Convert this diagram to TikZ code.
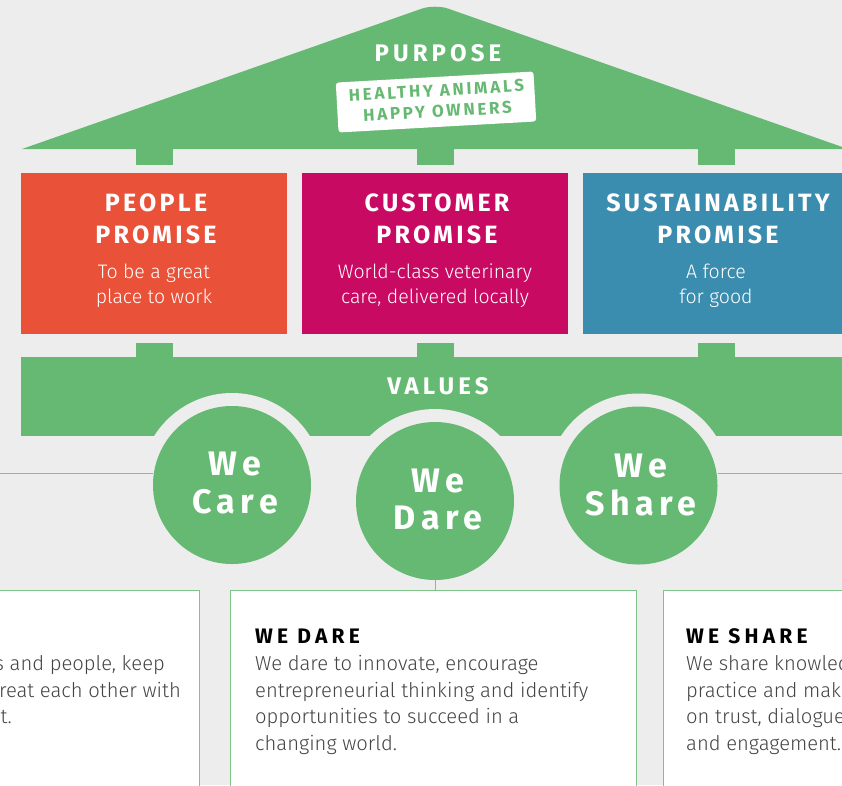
\documentclass[tikz,border=0pt]{standalone}
\usepackage{fontspec}
\setmainfont{Fira Sans}
\newfontfamily\lightfont{Fira Sans Light}
\newfontfamily\lsfont{Fira Sans}[LetterSpace=13]
\newfontfamily\lsbigfont{Fira Sans}[LetterSpace=17]
\newfontfamily\lswfont{Fira Sans}[LetterSpace=16]
\newfontfamily\lsheadfont{Fira Sans}[LetterSpace=20]
\definecolor{bgc}{HTML}{EDEDED}
\definecolor{vgreen}{HTML}{66B972}
\definecolor{lgreen}{HTML}{7DC489}
\definecolor{porange}{HTML}{E95238}
\definecolor{cmag}{HTML}{C90A62}
\definecolor{steal}{HTML}{3A8DAE}
\definecolor{bodygray}{HTML}{444444}
\newcommand\mytitlefont{\fontsize{25}{30}\selectfont\bfseries\lsfont}
\newcommand\mybigfont{\fontsize{24}{30}\selectfont\bfseries\lsbigfont}
\newcommand\mysubfont{\fontsize{19.5}{25}\selectfont\lightfont}
\newcommand\mycirclefont{\fontsize{34}{38}\selectfont\bfseries\lswfont}
\newcommand\myheadfont{\fontsize{21}{25}\selectfont\bfseries\lsheadfont}
\newcommand\mybodyfont{\fontsize{20.2}{26.7}\selectfont\lightfont}
\newcommand\mystampfont{\fontsize{17}{21}\selectfont\bfseries\lswfont}
\begin{document}
\begin{tikzpicture}[x=1pt,y=-1pt,
  promisebox/.style={minimum width=266pt,minimum height=161pt,inner sep=0pt,draw=none},
  tab/.style={fill=vgreen,minimum width=37pt,inner sep=0pt},
  wtitle/.style={anchor=base,text=white,font=\mytitlefont,inner sep=0pt},
  wsub/.style={anchor=base,text=white,font=\mysubfont,inner sep=0pt},
  vcircle/.style={circle,fill=vgreen,minimum size=158pt,inner sep=0pt},
  vring/.style={circle,fill=bgc,minimum size=184pt,inner sep=0pt},
  ctext/.style={anchor=base,text=white,font=\mycirclefont,inner sep=0pt},
  valbox/.style={draw=lgreen,line width=1pt,fill=white,minimum width=406pt,minimum height=220pt,inner sep=0pt,anchor=north},
  vhead/.style={anchor=base west,text=black,font=\myheadfont,inner sep=0pt},
  vbody/.style={anchor=base west,text=bodygray,font=\mybodyfont,inner sep=0pt},
  vbodyr/.style={anchor=base east,text=bodygray,font=\mybodyfont,inner sep=0pt},
  thinline/.style={draw=lgreen,line width=1pt}
]
\useasboundingbox (0,0) rectangle (842,785);
\fill[bgc] (0,0) rectangle (842,785);
\clip (0,0) rectangle (842,785);
% roof
\fill[vgreen] (22,149) [rounded corners=14pt] -- (435,4) [sharp corners] -- (848,149) -- cycle;
\node[white,font=\mybigfont,anchor=base,inner sep=0pt] (purpose) at (438,61) {PURPOSE};
\begin{scope}[rotate around={3.2:(436,102)},transform shape]
  \node[fill=white,rounded corners=3pt,minimum width=198pt,minimum height=50pt,inner sep=0pt] (stamp) at (436,102) {};
  \node[text=vgreen,font=\mystampfont,inner sep=0pt,align=center] (stamptxt) at (437,101) {HEALTHY ANIMALS\\HAPPY OWNERS};
\end{scope}
% upper tabs
\node[tab,minimum height=17pt,anchor=north] (t1) at (154.5,148) {};
\node[tab,minimum height=17pt,anchor=north] (t2) at (435.5,148) {};
\node[tab,minimum height=17pt,anchor=north] (t3) at (716.5,148) {};
% promise boxes
\node[promisebox,fill=porange,anchor=north west] (people) at (21,173) {};
\node[promisebox,fill=cmag,anchor=north west] (customer) at (302,173) {};
\node[promisebox,fill=steal,anchor=north west] (sustain) at (583,173) {};
\node[wtitle] (p1) at (156,211) {PEOPLE};
\node[wtitle] (p2) at (156,243) {PROMISE};
\node[wsub] (p3) at (154,278) {To be a great};
\node[wsub] (p4) at (154,303) {place to work};
\node[wtitle] (c1) at (437,211) {CUSTOMER};
\node[wtitle] (c2) at (437,243) {PROMISE};
\node[wsub] (c3) at (435,278) {World-class veterinary};
\node[wsub] (c4) at (435,303) {care, delivered locally};
\node[wtitle] (s1) at (718,211) {SUSTAINABILITY};
\node[wtitle] (s2) at (718,243) {PROMISE};
\node[wsub] (s3) at (716,278) {A force};
\node[wsub] (s4) at (716,303) {for good};
% lower tabs
\node[tab,minimum height=14pt,anchor=north] (b1) at (154.5,343) {};
\node[tab,minimum height=14pt,anchor=north] (b2) at (435.5,343) {};
\node[tab,minimum height=14pt,anchor=north] (b3) at (716.5,343) {};
% values bar
\node[fill=vgreen,minimum width=900pt,minimum height=79pt,inner sep=0pt,anchor=north west] (values) at (21,357) {};
\node[white,font=\mybigfont,anchor=base,inner sep=0pt] (valtxt) at (438,394) {VALUES};
% rings and circles
\node[vring] (ring1) at (232,485) {};
\node[vring] (ring2) at (435,501) {};
\node[vring] (ring3) at (638.5,485.5) {};
\coordinate (lstart) at (0,473);
\coordinate (rend) at (842,473);
\node[vcircle] (care) at (232,485) {};
\node[vcircle] (dare) at (435,501) {};
\node[vcircle] (share) at (638.5,485.5) {};
\draw[thinline] (lstart) -- (lstart -| care.west);
\draw[thinline] (rend -| share.east) -- (rend);
\node[ctext] (care1) at (235,475) {We};
\node[ctext] (care2) at (235,513) {Care};
\node[ctext] (dare1) at (438,492) {We};
\node[ctext] (dare2) at (438,529) {Dare};
\node[ctext] (share1) at (641,477) {We};
\node[ctext] (share2) at (641,515) {Share};
% bottom boxes
\node[valbox] (carebox) at (-4,590) {};
\node[valbox] (darebox) at (433,590) {};
\node[valbox] (sharebox) at (866,590) {};
\draw[thinline] (dare.south) -- (darebox.north -| dare.south);
\node[vbodyr] (cb1) at (165,670) {s and people, keep};
\node[vbodyr] (cb2) at (181,697) {reat each other with};
\node[vbodyr] (cb3) at (12,723) {t.};
\node[vhead] (dh) at (255,643) {WE DARE};
\node[vbody] (db1) at (255,670) {We dare to innovate, encourage};
\node[vbody] (db2) at (255,697) {entrepreneurial thinking and identify};
\node[vbody] (db3) at (255,723) {opportunities to succeed in a};
\node[vbody] (db4) at (255,750) {changing world.};
\node[vhead] (sh) at (686,643) {WE SHARE};
\node[vbody] (sb1) at (686,670) {We share knowled};
\node[vbody] (sb2) at (686,697) {practice and make};
\node[vbody] (sb3) at (686,723) {on trust, dialogue};
\node[vbody] (sb4) at (686,750) {and engagement.};
\end{tikzpicture}
\end{document}
